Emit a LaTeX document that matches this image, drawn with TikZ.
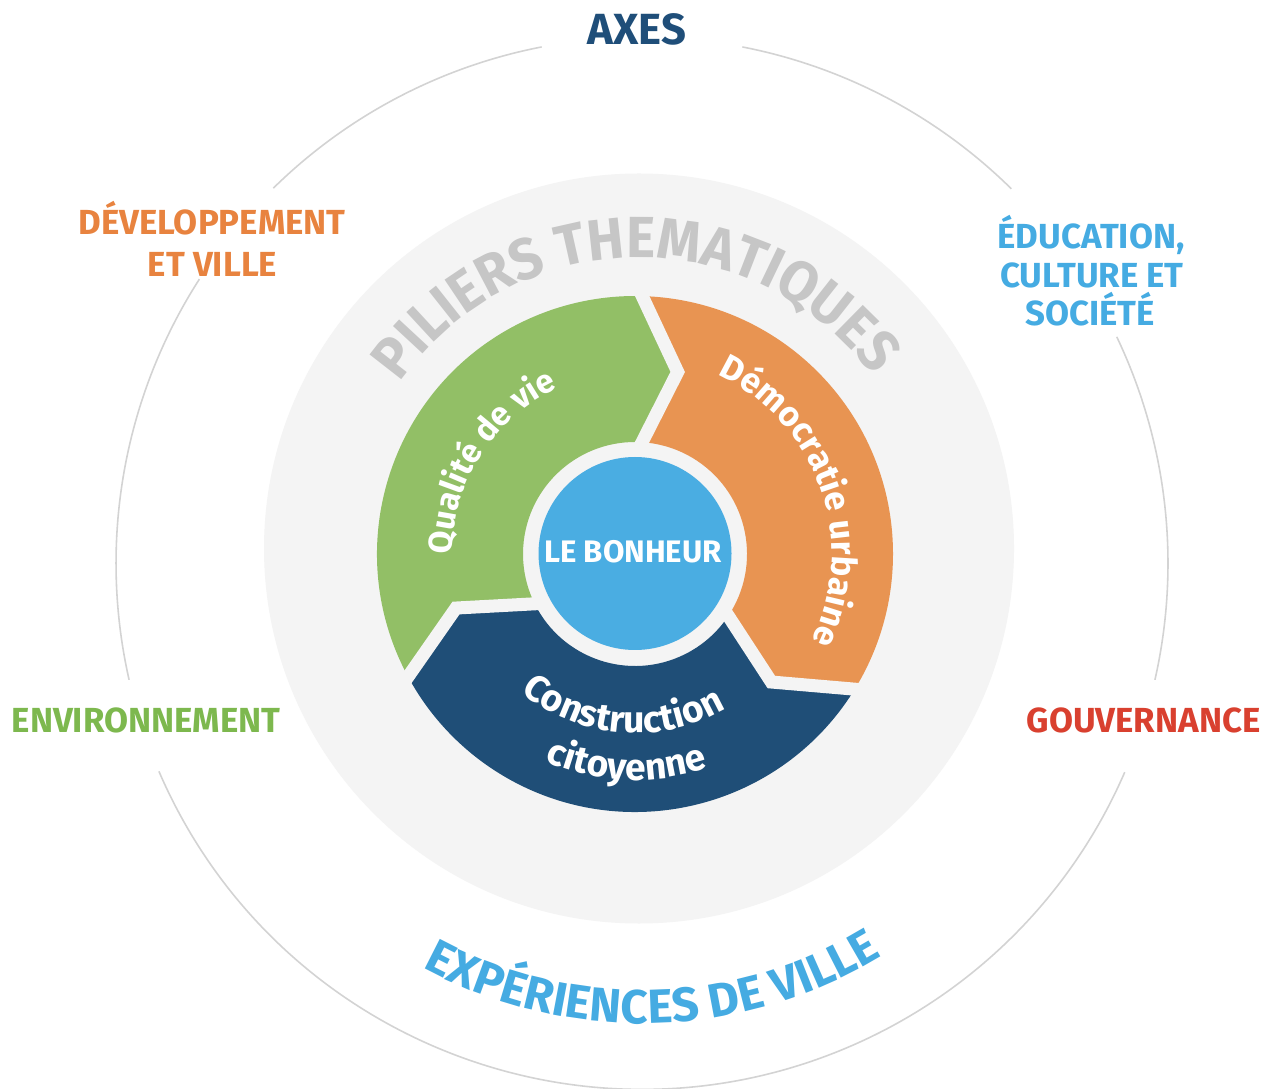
\documentclass[tikz,border=0pt]{standalone}
\usepackage{fontspec}
\setmainfont{Fira Sans}
\newfontfamily\pilfam[FakeStretch=0.95]{Fira Sans}
\usetikzlibrary{decorations.text,calc}
\definecolor{ringgray}{HTML}{D3D3D3}
\definecolor{bggray}{HTML}{F4F4F4}
\definecolor{txtgray}{HTML}{C6C6C6}
\definecolor{segreen}{HTML}{92BF66}
\definecolor{seorange}{HTML}{E89452}
\definecolor{sedblue}{HTML}{1F4E77}
\definecolor{selblue}{HTML}{4AADE2}
\definecolor{txdblue}{HTML}{1F4E79}
\definecolor{txorange}{HTML}{E8833F}
\definecolor{txlblue}{HTML}{45ABE2}
\definecolor{txgreen}{HTML}{7DB84E}
\definecolor{txred}{HTML}{D9402F}
\newcommand\segfont{\fontsize{9.4}{10}\selectfont\bfseries}
\newcommand\demfont{\fontsize{9.9}{10}\selectfont\bfseries}
\newcommand\consfont{\fontsize{10.6}{11}\selectfont\bfseries}
\newcommand\pilfont{\pilfam\fontsize{16.5}{18}\selectfont\bfseries}
\newcommand\expfont{\fontsize{13.6}{15}\selectfont\bfseries}
\newcommand\axfont{\fontsize{12.4}{14}\selectfont\bfseries}
\newcommand\lblfont{\fontsize{9.9}{11}\selectfont\bfseries}
\newcommand\bonfont{\fontsize{8.85}{10}\selectfont\bfseries}
\tikzset{
  ringline/.style={draw=ringgray, line width=0.45pt},
  gapline/.style={draw=bggray, line width=3.7pt, line join=miter},
  lbl/.style={anchor=base, inner sep=0pt, font=\lblfont},
}
\begin{document}
\begin{tikzpicture}[x=0.01cm,y=0.01cm]
\useasboundingbox (0,0) rectangle (1277,1088);
\fill[white] (0,0) rectangle (1277,1088);

% outer thin circle (broken around the labels)
\begin{scope}[shift={(642,524.7)}]
  \foreach \a/\b in {101/134.5, 147.3/192.8, 203.3/336.6, 347.2/385.5, 45.4/79}
    \draw[ringline] (\a:526) arc[start angle=\a, end angle=\b, radius=526];
\end{scope}

% grey disk
\fill[bggray] (639,539.5) circle[radius=375];

% PILIERS THEMATIQUES
\path[decorate, decoration={text along path, text={|\pilfont|PILIERS THEMATIQUES}, text align=center, text color=txtgray}]
  (639,539.5) ++(150.8:291) arc[start angle=150.8, end angle=30.8, radius=291];

% EXPERIENCES DE VILLE
\path[decorate, decoration={text along path, text={|\expfont|EXPÉRIENCES DE VILLE}, text align=center, text color=txlblue}]
  (642,524.7) ++(211.5:460) arc[start angle=211.5, end angle=331.5, radius=460];

% ring segments
\begin{scope}[shift={(635,534)}]
  \foreach \a/\c in {208.4/segreen, 88.4/seorange, -31.6/sedblue} {
    \pgfmathsetmacro\e{\a-120}
    \pgfmathsetmacro\et{\e-11.6}
    \pgfmathsetmacro\ei{\e-2}
    \pgfmathsetmacro\at{\a-11.6}
    \pgfmathsetmacro\ai{\a-2}
    \fill[\c] (\a:258) arc[start angle=\a, end angle=\e, radius=258]
      -- (\et:187) -- (\ei:112) arc[start angle=\ei, end angle=\ai, radius=112]
      -- (\at:187) -- cycle;
  }
  \foreach \a in {208.4, 88.4, -31.6} {
    \pgfmathsetmacro\at{\a-11.6}
    \pgfmathsetmacro\ai{\a-2}
    \coordinate (go) at (\a:258);
    \coordinate (gt) at (\at:187);
    \coordinate (gi) at (\ai:112);
    \draw[gapline] ($(gt)!1.25!(go)$) -- (gt) -- ($(gt)!1.3!(gi)$);
  }
  \fill[selblue] (0,0.5) circle[radius=96.5];
  \node[anchor=base, inner sep=0pt, text=white, font=\bonfont] (bonheur) at (-2,-9) {LE BONHEUR};

  \path[decorate, decoration={text along path, text={|\segfont|Qualité de vie}, text align=center, text color=white}]
    (207.5:183) arc[start angle=207.5, end angle=87.5, radius=183];
  \path[decorate, decoration={text along path, text={|\demfont|Démocratie urbaine}, text align=center, text color=white}]
    (79.5:197) arc[start angle=79.5, end angle=-40.5, radius=197];
  \path[decorate, decoration={text along path, text={|\consfont|Construction}, text align=center, text color=white}]
    (205.5:179) arc[start angle=205.5, end angle=325.5, radius=179];
  \path[decorate, decoration={text along path, text={|\consfont|citoyenne}, text align=center, text color=white}]
    (207.7:226) arc[start angle=207.7, end angle=327.7, radius=226];
\end{scope}

% labels
\node[anchor=base, inner sep=0pt, text=txdblue, font=\axfont] (axes) at (637,1043) {AXES};
\node[lbl, text=txorange] (dev1) at (212,853) {DÉVELOPPEMENT};
\node[lbl, text=txorange] (dev2) at (212.5,811) {ET VILLE};
\node[lbl, text=txlblue] (edu1) at (1091,839) {ÉDUCATION,};
\node[lbl, text=txlblue] (edu2) at (1092,800) {CULTURE ET};
\node[lbl, text=txlblue] (edu3) at (1090,762) {SOCIÉTÉ};
\node[lbl, text=txgreen] (env) at (146,356) {ENVIRONNEMENT};
\node[lbl, text=txred] (gouv) at (1143.5,356) {GOUVERNANCE};
\end{tikzpicture}
\end{document}
